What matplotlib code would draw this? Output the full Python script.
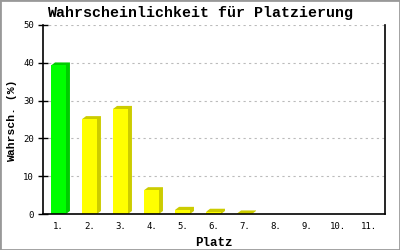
import matplotlib
matplotlib.use("Agg")
import matplotlib.pyplot as plt
from matplotlib.patches import Polygon, Rectangle

places = ["1.", "2.", "3.", "4.", "5.", "6.", "7.", "8.", "9.", "10.", "11."]
probs = [39.3, 25.1, 27.8, 6.3, 1.1, 0.6, 0.15, 0, 0, 0, 0]
front_colors = ["#00ff00"] + ["#ffff00"] * 10
side_colors = ["#00cc00"] + ["#cccc00"] * 10
y_ticks = [0, 10, 20, 30, 40, 50]

W, H, DPI = 400, 250, 100
fig = plt.figure(figsize=(W / DPI, H / DPI), dpi=DPI)
ax_l, ax_b, ax_w, ax_h = 43 / W, 36 / H, 342 / W, 189 / H
ax = fig.add_axes([ax_l, ax_b, ax_w, ax_h])

xlim = (0.5, 11.53)
ylim = (0, 50)
ax.set_xlim(*xlim)
ax.set_ylim(*ylim)

# 3d depth: 4px right, 3px up, converted to data units
dx = 4 * (xlim[1] - xlim[0]) / (ax_w * W)
dy = 3 * (ylim[1] - ylim[0]) / (ax_h * H)

width = 0.48
xs = list(range(1, len(places) + 1))
for x, v, fc, sc in zip(xs, probs, front_colors, side_colors):
    if v <= 0:
        continue
    x0, x1 = x - width / 2, x + width / 2
    side = Polygon([(x0, v), (x0 + dx, v + dy), (x1 + dx, v + dy),
                    (x1 + dx, dy), (x1, 0)], closed=True,
                   facecolor=sc, edgecolor="none", zorder=3)
    ax.add_patch(side)
    ax.add_patch(Rectangle((x0, 0), width, v, facecolor=fc,
                           edgecolor="none", zorder=4))

ax.set_yticks(y_ticks)
ax.set_xticks(xs)
ax.set_xticklabels(places)
ax.grid(axis="y", color="#bbbbbb", linestyle=(0, (2, 3)), linewidth=0.8)
ax.set_axisbelow(True)

ax.spines["top"].set_visible(False)
for s in ["left", "bottom", "right"]:
    ax.spines[s].set_linewidth(1.2)
    ax.spines[s].set_zorder(5)
ax.tick_params(axis="y", direction="inout", length=7, width=1,
               labelsize=6.5, pad=3)
ax.tick_params(axis="x", length=0, labelsize=6.5, pad=6)
for lab in ax.get_xticklabels() + ax.get_yticklabels():
    lab.set_family("DejaVu Sans Mono")

fig.text(0.5, 1 - 13 / H, "Wahrscheinlichkeit für Platzierung",
         family="Liberation Mono", fontweight="bold", fontsize=10.8,
         ha="center", va="center")
fig.text(12 / W, 1 - 121 / H, "Wahrsch. (%)", family="Liberation Mono",
         fontweight="bold", fontsize=8.2, rotation=90,
         ha="center", va="center")
ax.set_xlabel("Platz", family="Liberation Mono", fontweight="bold",
              fontsize=9, labelpad=4)

fig.patches.append(Rectangle((0, 0), 1, 1, transform=fig.transFigure,
                             fill=False, edgecolor="#999999", linewidth=2))

fig.savefig("out.png", dpi=DPI)
